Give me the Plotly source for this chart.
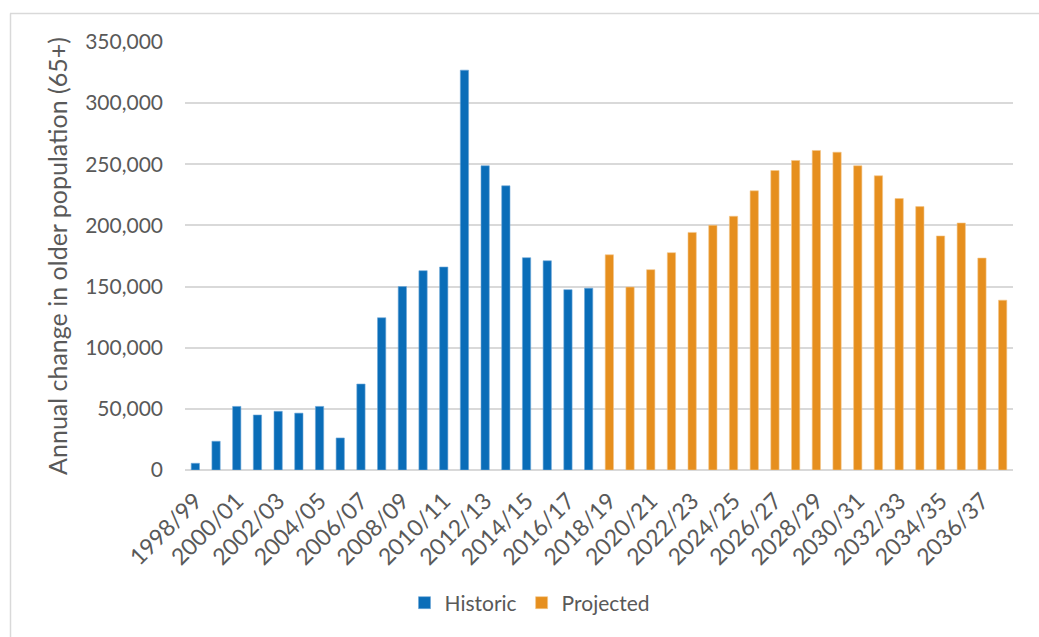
import plotly.graph_objects as go

years = [f"{y}/{str(y + 1)[-2:]}" for y in range(1998, 2038)]
historic_years = years[:20]
projected_years = years[20:]

historic = [5500, 23500, 52000, 45000, 48000, 46500, 52000, 26200, 70300, 124500,
            150000, 163000, 166000, 327000, 248800, 232400, 173600, 171100, 147500, 148700]
projected = [176000, 149600, 163800, 177700, 194300, 200100, 207500, 228300, 244900, 253100,
             261300, 259900, 248800, 240600, 222000, 215400, 191400, 202000, 173300, 138900]

tick_labels = years[::2]

W, H = 1039, 637
L, R, T, B = 185, 26, 42, 167
pw, ph = W - L - R, H - T - B

FONT = "Lato"
GRAY = "#595959"

fig = go.Figure()
fig.add_trace(go.Bar(x=historic_years, y=historic, name="Historic",
                     marker=dict(color="#0A6DB8", line=dict(width=0.6, color="#6FA8D8")),
                     width=0.4))
fig.add_trace(go.Bar(x=projected_years, y=projected, name="Projected",
                     marker=dict(color="#E68F1E", line=dict(width=0.6, color="#F3C68A")),
                     width=0.4))

def px_x(p):
    return (p - L) / pw

def px_y(p):
    return (H - B - p) / ph

fig.update_layout(
    width=W, height=H,
    margin=dict(l=L, r=R, t=T, b=B),
    paper_bgcolor="white", plot_bgcolor="white",
    barmode="overlay",
    font=dict(family=FONT, size=21, color=GRAY),
    showlegend=True,
    legend=dict(orientation="h", x=px_x(530), xanchor="center", y=px_y(603), yanchor="middle",
                font=dict(family=FONT, size=21, color=GRAY), itemwidth=30,
                traceorder="normal"),
    xaxis=dict(type="category", categoryorder="array", categoryarray=years,
               tickmode="array", tickvals=tick_labels, ticktext=tick_labels,
               tickangle=-45, showgrid=False, showline=False, zeroline=False,
               ticks="", ticklabelstandoff=12,
               tickfont=dict(family=FONT, size=23, color=GRAY),
               range=[-0.5, 39.5]),
    yaxis=dict(range=[0, 350000], tickvals=list(range(0, 350001, 50000)),
               tickformat=",d", showgrid=True, gridcolor="#D9D9D9", gridwidth=1.5,
               zeroline=True, zerolinecolor="#D9D9D9", zerolinewidth=1.5,
               showline=False, ticks="", ticklabelstandoff=21,
               tickfont=dict(family=FONT, size=21, color=GRAY),
               title=dict(text="Annual change in older population (65+)",
                          font=dict(family=FONT, size=25, color=GRAY), standoff=10)),
    shapes=[
        dict(type="line", xref="paper", yref="paper", x0=px_x(10), x1=px_x(1045),
             y0=px_y(13.5), y1=px_y(13.5), line=dict(color="#D9D9D9", width=1.5)),
        dict(type="line", xref="paper", yref="paper", x0=px_x(10.5), x1=px_x(10.5),
             y0=px_y(13.5), y1=px_y(645), line=dict(color="#D9D9D9", width=1.5)),
    ],
)

fig.write_html("out.html")
